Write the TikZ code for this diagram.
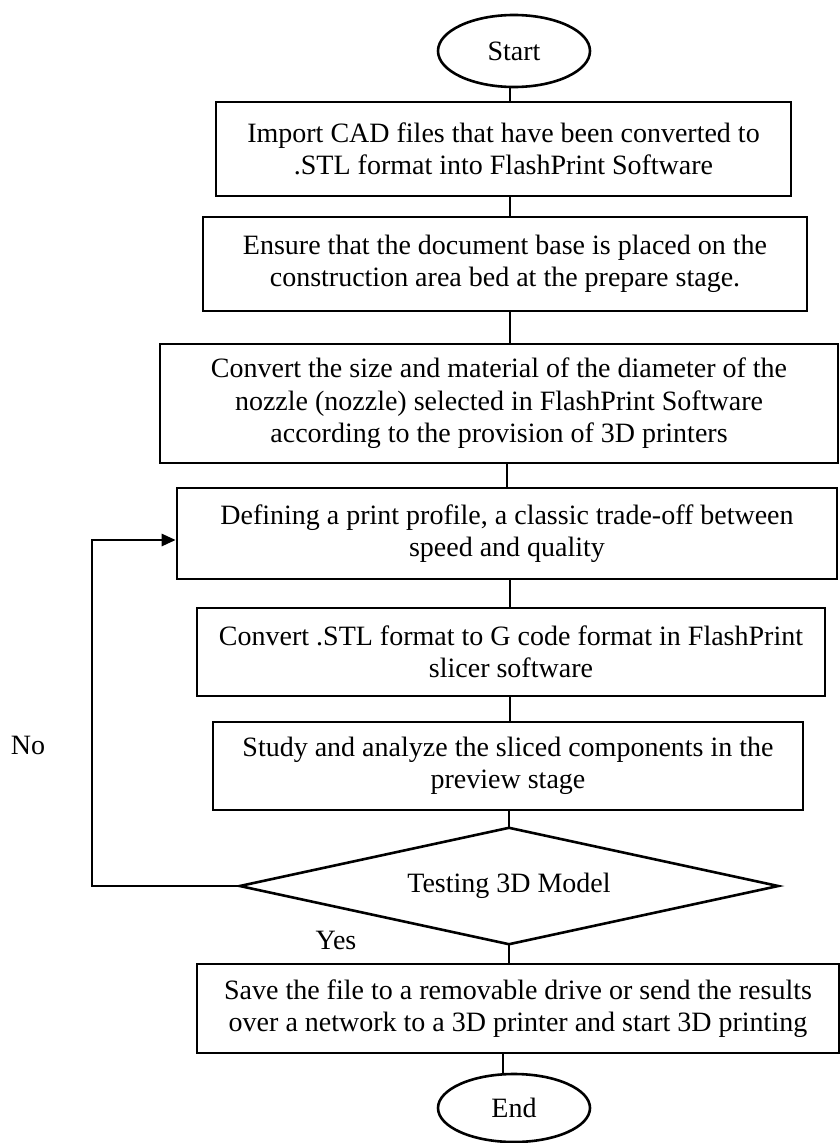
\documentclass[tikz,border=0pt]{standalone}
\usepackage{fontspec}
\setmainfont{Liberation Serif}
\usetikzlibrary{shapes.geometric,arrows.meta}
\begin{document}
\begin{tikzpicture}[x=1pt,y=-1pt,
  every node/.style={font=\fontsize{28}{32.5}\selectfont},
  procbox/.style={draw, line width=2.6pt, rectangle, align=center, inner sep=0pt},
  term/.style={draw, line width=2.6pt, ellipse, inner sep=0pt},
  decision/.style={rectangle, inner sep=0pt},
  conn/.style={line width=2.6pt},
  arr/.style={line width=2.6pt, -{Triangle[length=14pt,width=12pt]}},
  lbl/.style={inner sep=0pt}]
\useasboundingbox (0,0) rectangle (840,1143);
\node[term, minimum width=152pt, minimum height=72pt] (start) at (514,51) {Start};
\node[procbox, minimum width=575pt, minimum height=94pt] (b1) at (503.5,149) {Import CAD files that have been converted to\\.STL format into FlashPrint Software};
\node[procbox, minimum width=604pt, minimum height=94pt] (b2) at (505,264) {Ensure that the document base is placed on the\\construction area bed at the prepare stage.};
\node[procbox, minimum width=678pt, minimum height=119pt] (b3) at (499,403.5) {Convert the size and material of the diameter of the\\nozzle (nozzle) selected in FlashPrint Software\\according to the provision of 3D printers};
\node[procbox, minimum width=660pt, minimum height=91pt] (b4) at (507,533.5) {Defining a print profile, a classic trade-off between\\speed and quality};
\node[procbox, minimum width=628pt, minimum height=88pt] (b5) at (511,652) {Convert .STL format to G code format in FlashPrint\\slicer software};
\node[procbox, minimum width=590pt, minimum height=88pt] (b6) at (508,766) {Study and analyze the sliced components in the\\preview stage};
\node[decision, minimum width=538pt, minimum height=116pt] (dia) at (509,886) {Testing 3D Model};
\draw[conn, line join=miter] (dia.west) -- (dia.north) -- (dia.east) -- (dia.south) -- cycle;
\node[procbox, minimum width=642pt, minimum height=89pt] (b7) at (518,1008.5) {Save the file to a removable drive or send the results\\over a network to a 3D printer and start 3D printing};
\node[term, minimum width=152pt, minimum height=68pt] (end) at (514,1108) {End};
\node[lbl] (no) at (28,745) {No};
\node[lbl] (yes) at (336,940) {Yes};
\coordinate (lb) at (92,886);
\coordinate (lt) at (92,540);
\coordinate (la) at (b4.west |- lt);
\draw[conn] (start.south -| 510,0) -- (b1.north -| 510,0);
\draw[conn] (b1.south -| 510,0) -- (b2.north -| 510,0);
\draw[conn] (b2.south -| 510,0) -- (b3.north -| 510,0);
\draw[conn] (b3.south -| 507,0) -- (b4.north -| 507,0);
\draw[conn] (b4.south -| 510,0) -- (b5.north -| 510,0);
\draw[conn] (b5.south -| 510,0) -- (b6.north -| 510,0);
\draw[conn] (b6.south -| dia.north) -- (dia.north);
\draw[conn] (dia.south) -- (b7.north -| dia.south);
\draw[conn] (b7.south -| 503,0) -- (end.north -| 503,0);
\draw[arr] (dia.west) -- (lb) -- (lt) -- (la);
\end{tikzpicture}
\end{document}
